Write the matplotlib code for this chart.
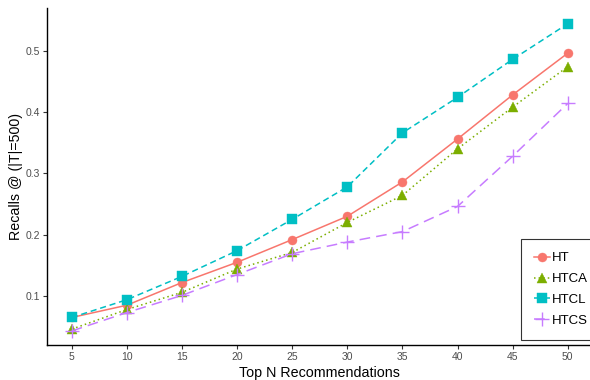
import matplotlib
matplotlib.use("Agg")
import matplotlib.pyplot as plt

plt.rcParams["font.family"] = ["Liberation Sans", "DejaVu Sans"]

x_vals = [5, 10, 15, 20, 25, 30, 35, 40, 45, 50]
series_names = ["HT", "HTCA", "HTCL", "HTCS"]
ht = [0.065, 0.085, 0.122, 0.155, 0.192, 0.230, 0.286, 0.356, 0.428, 0.496]
htca = [0.046, 0.078, 0.106, 0.144, 0.171, 0.220, 0.264, 0.340, 0.408, 0.474]
htcl = [0.065, 0.094, 0.132, 0.174, 0.225, 0.278, 0.366, 0.424, 0.486, 0.544]
htcs = [0.043, 0.073, 0.101, 0.135, 0.169, 0.188, 0.205, 0.246, 0.328, 0.414]
xticks = [5, 10, 15, 20, 25, 30, 35, 40, 45, 50]
yticks = [0.1, 0.2, 0.3, 0.4, 0.5]

colors = ["#F8766D", "#7CAE00", "#00BFC4", "#C77CFF"]
markers = ["o", "^", "s", "+"]
msizes = [6.5, 7.5, 6.5, 10]
styles = ["-", (0, (1, 2)), (0, (4, 2.5)), (0, (7, 4))]

W, H = 590, 380
fig = plt.figure(figsize=(W / 100, H / 100), dpi=100)
ax = fig.add_axes([47 / W, 35 / H, 545.5 / W, 337 / H])

for name, vals, c, m, ms, ls in zip(series_names, [ht, htca, htcl, htcs], colors, markers, msizes, styles):
    ax.plot(x_vals, vals, color=c, linestyle=ls, linewidth=1.1, marker=m,
            markersize=ms, markeredgewidth=1.0 if m == "+" else 0.3,
            markeredgecolor=c, label=name)

ax.set_xlim(2.75, 52.25)
ax.set_ylim(0.0201, 0.5697)
ax.set_xticks(xticks)
ax.set_yticks(yticks)
ax.set_xticklabels([str(t) for t in xticks])
ax.set_yticklabels([f"{t:.1f}" for t in yticks])
for s in ["top", "right"]:
    ax.spines[s].set_visible(False)
for s in ["left", "bottom"]:
    ax.spines[s].set_linewidth(1.0)
    ax.spines[s].set_color("black")
ax.tick_params(axis="both", colors="#333333", labelcolor="#4D4D4D", labelsize=7.5, length=3, width=0.8, pad=2)
ax.set_xlabel("Top N Recommendations", fontsize=10.3, color="black", labelpad=3)
ax.set_ylabel("Recalls @ (|T|=500)", fontsize=10.3, color="black", labelpad=2)

leg = ax.legend(loc="lower right", bbox_to_anchor=(601 / W, 40 / H), bbox_transform=fig.transFigure,
                frameon=True, fancybox=False, fontsize=9.5, handlelength=1.2, handletextpad=0.15,
                borderpad=1.0, labelspacing=0.65, borderaxespad=0)
leg.get_frame().set_edgecolor("black")
leg.get_frame().set_linewidth(0.8)

fig.savefig("out.png", dpi=100)
